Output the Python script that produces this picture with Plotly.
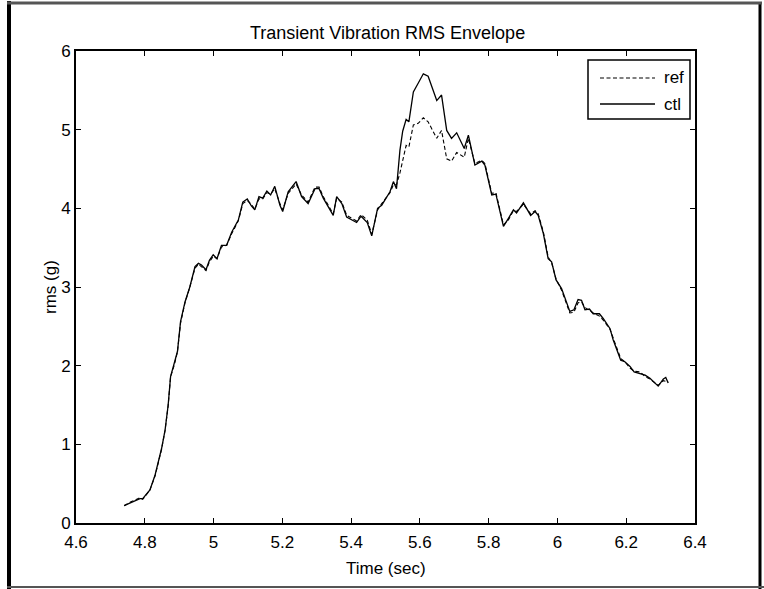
import plotly.graph_objects as go

# ---- data ----
time_s = [4.740, 4.760, 4.786, 4.794, 4.815, 4.830, 4.849, 4.859, 4.868, 4.875,
          4.886, 4.895, 4.904, 4.917, 4.931, 4.946, 4.956, 4.965, 4.978, 4.988,
          4.999, 5.010, 5.023, 5.038, 5.053, 5.072, 5.085, 5.098, 5.110, 5.120,
          5.132, 5.143, 5.155, 5.166, 5.178, 5.193, 5.201, 5.217, 5.240, 5.256,
          5.275, 5.295, 5.307, 5.319, 5.348, 5.358, 5.373, 5.387, 5.416, 5.429,
          5.447, 5.460, 5.477, 5.489, 5.513, 5.523, 5.532, 5.542, 5.550, 5.560,
          5.568, 5.581, 5.595, 5.610, 5.624, 5.649, 5.663, 5.678, 5.692, 5.707,
          5.729, 5.741, 5.760, 5.780, 5.789, 5.809, 5.821, 5.843, 5.857, 5.872,
          5.881, 5.901, 5.922, 5.935, 5.944, 5.959, 5.973, 5.983, 5.996, 6.012,
          6.036, 6.048, 6.060, 6.070, 6.080, 6.093, 6.104, 6.122, 6.133, 6.153,
          6.162, 6.172, 6.184, 6.196, 6.211, 6.223, 6.240, 6.255, 6.269, 6.293,
          6.308, 6.315, 6.322]

ctl = [0.22, 0.26, 0.31, 0.31, 0.42, 0.61, 0.95, 1.18, 1.50, 1.86,
       2.02, 2.18, 2.56, 2.81, 3.00, 3.26, 3.30, 3.28, 3.22, 3.34,
       3.41, 3.36, 3.53, 3.53, 3.70, 3.85, 4.08, 4.12, 4.03, 3.98,
       4.15, 4.13, 4.22, 4.17, 4.28, 4.04, 3.96, 4.21, 4.34, 4.15,
       4.06, 4.25, 4.25, 4.13, 3.91, 4.15, 4.06, 3.89, 3.82, 3.90,
       3.82, 3.65, 4.00, 4.04, 4.21, 4.34, 4.25, 4.74, 4.98, 5.13,
       5.10, 5.48, 5.59, 5.71, 5.68, 5.37, 5.44, 4.99, 4.89, 4.96,
       4.76, 4.93, 4.55, 4.60, 4.55, 4.17, 4.18, 3.77, 3.87, 3.98,
       3.94, 4.07, 3.91, 3.96, 3.91, 3.68, 3.36, 3.32, 3.09, 2.98,
       2.69, 2.71, 2.84, 2.83, 2.71, 2.72, 2.66, 2.66, 2.60, 2.47,
       2.33, 2.22, 2.07, 2.05, 1.99, 1.92, 1.90, 1.88, 1.84, 1.74,
       1.83, 1.85, 1.78]

ref = [0.22, 0.27, 0.32, 0.30, 0.42, 0.60, 0.94, 1.18, 1.49, 1.86,
       2.01, 2.18, 2.54, 2.80, 3.00, 3.24, 3.29, 3.26, 3.21, 3.32,
       3.39, 3.36, 3.51, 3.53, 3.68, 3.84, 4.06, 4.10, 4.05, 3.99,
       4.12, 4.12, 4.20, 4.18, 4.25, 4.06, 3.98, 4.19, 4.31, 4.17,
       4.08, 4.27, 4.27, 4.15, 3.93, 4.13, 4.08, 3.91, 3.84, 3.92,
       3.85, 3.67, 3.98, 4.06, 4.20, 4.30, 4.30, 4.45, 4.60, 4.80,
       4.78, 5.06, 5.08, 5.15, 5.10, 4.89, 4.99, 4.63, 4.60, 4.71,
       4.65, 4.89, 4.57, 4.61, 4.57, 4.19, 4.20, 3.79, 3.85, 3.97,
       3.96, 4.05, 3.93, 3.97, 3.93, 3.70, 3.38, 3.31, 3.10, 2.96,
       2.67, 2.68, 2.80, 2.81, 2.74, 2.70, 2.67, 2.63, 2.58, 2.46,
       2.35, 2.24, 2.09, 2.05, 1.97, 1.93, 1.92, 1.86, 1.83, 1.75,
       1.81, 1.80, 1.79]

x_ticks = [4.6, 4.8, 5.0, 5.2, 5.4, 5.6, 5.8, 6.0, 6.2, 6.4]
x_tick_labels = ["4.6", "4.8", "5", "5.2", "5.4", "5.6", "5.8", "6", "6.2", "6.4"]
y_ticks = [0, 1, 2, 3, 4, 5, 6]
y_tick_labels = ["0", "1", "2", "3", "4", "5", "6"]
series_names = ["ref", "ctl"]

# ---- layout geometry (pixels) ----
W, H = 764, 589
L, R, T, B = 76, 695, 51, 523   # plot area edges
FONT = "Liberation Sans, Arial, sans-serif"


def px(x):
    return (x - L) / (R - L)


def py(y):
    return (B - y) / (B - T)


fig = go.Figure()
fig.add_trace(go.Scatter(x=time_s, y=ref, mode="lines", name=series_names[0],
                         line=dict(color="black", width=1.1, dash="4px,2.5px"),
                         showlegend=False))
fig.add_trace(go.Scatter(x=time_s, y=ctl, mode="lines", name=series_names[1],
                         line=dict(color="black", width=1.3),
                         showlegend=False))

axis_common = dict(showline=True, linecolor="black", linewidth=1.6, mirror="ticks",
                   ticks="inside", ticklen=5, tickwidth=1, tickcolor="black",
                   showgrid=False, zeroline=False,
                   tickfont=dict(family=FONT, size=17, color="black"))
fig.update_xaxes(range=[4.6, 6.4], tickvals=x_ticks, ticktext=x_tick_labels,
                 ticklabelstandoff=3, **axis_common)
fig.update_yaxes(range=[0, 6], tickvals=y_ticks, ticktext=y_tick_labels, **axis_common)

shapes = []
# outer frame of the original screenshot
shapes.append(dict(type="line", xref="paper", yref="paper",
                   x0=px(9), x1=px(9), y0=py(1), y1=py(589),
                   line=dict(color="black", width=4)))
shapes.append(dict(type="line", xref="paper", yref="paper",
                   x0=px(760), x1=px(760), y0=py(2), y1=py(589),
                   line=dict(color="black", width=3)))
shapes.append(dict(type="line", xref="paper", yref="paper",
                   x0=px(7), x1=px(762), y0=py(3), y1=py(3),
                   line=dict(color="#555555", width=3)))
shapes.append(dict(type="line", xref="paper", yref="paper",
                   x0=px(7), x1=px(764), y0=py(587), y1=py(587),
                   line=dict(color="#555555", width=2)))
# legend box
shapes.append(dict(type="rect", xref="paper", yref="paper",
                   x0=px(588), x1=px(690), y0=py(60), y1=py(119),
                   line=dict(color="black", width=1.5), fillcolor="white"))
shapes.append(dict(type="line", xref="paper", yref="paper",
                   x0=px(600), x1=px(655), y0=py(78), y1=py(78),
                   line=dict(color="black", width=1.1, dash="4px,2.5px")))
shapes.append(dict(type="line", xref="paper", yref="paper",
                   x0=px(600), x1=px(655), y0=py(104), y1=py(104),
                   line=dict(color="black", width=1.3)))

annotations = [
    dict(text="Transient Vibration RMS Envelope", xref="paper", yref="paper",
         x=px(387), y=py(33), showarrow=False, xanchor="center", yanchor="middle",
         font=dict(family=FONT, size=18, color="black")),
    dict(text="Time (sec)", xref="paper", yref="paper",
         x=px(386), y=py(568), showarrow=False, xanchor="center", yanchor="middle",
         font=dict(family=FONT, size=17, color="black")),
    dict(text="rms (g)", xref="paper", yref="paper",
         x=px(50), y=py(287), showarrow=False, xanchor="center", yanchor="middle",
         textangle=-90, font=dict(family=FONT, size=17, color="black")),
    dict(text=series_names[0], xref="paper", yref="paper",
         x=px(662), y=py(78), showarrow=False, xanchor="left", yanchor="middle",
         font=dict(family=FONT, size=17, color="black")),
    dict(text=series_names[1], xref="paper", yref="paper",
         x=px(662), y=py(104), showarrow=False, xanchor="left", yanchor="middle",
         font=dict(family=FONT, size=17, color="black")),
]

fig.update_layout(width=W, height=H, autosize=False,
                  margin=dict(l=L, r=W - R, t=T, b=H - B, pad=0),
                  paper_bgcolor="white", plot_bgcolor="white",
                  shapes=shapes, annotations=annotations, showlegend=False)

fig.write_html("out.html",
               config={"displayModeBar": False},
               post_script="document.body.style.margin='0px';"
                           "document.body.style.overflow='hidden';")
